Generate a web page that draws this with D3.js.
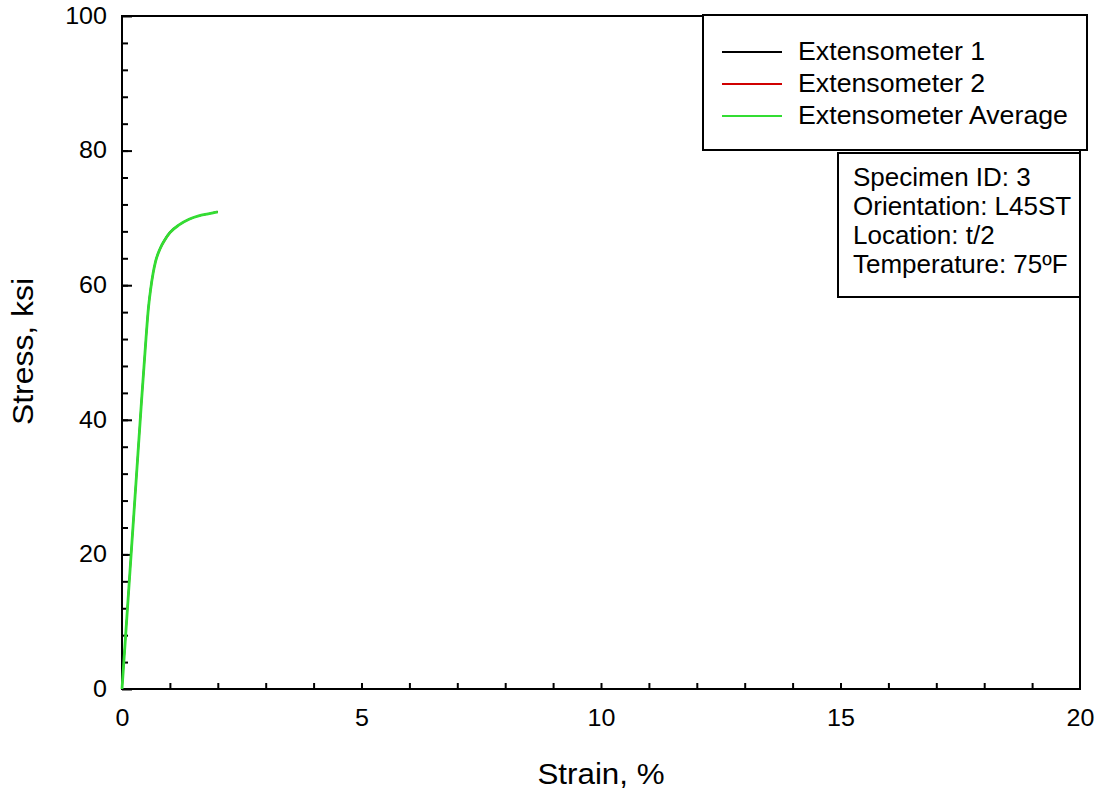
<!DOCTYPE html>
<html>
<head>
<meta charset="utf-8">
<script src="https://cdn.jsdelivr.net/npm/d3@7"></script>
<style>
  body { margin: 0; background: #fff; }
  text { font-family: "Liberation Sans", Arial, sans-serif; fill: #000; }
</style>
</head>
<body>
<div id="chart"></div>
<script>
const margin = {top: 16, right: 19, bottom: 105, left: 122},
  width = 1099 - margin.left - margin.right,
  height = 794 - margin.top - margin.bottom;

// strain (%) values
const strain_avg = [0, 0.1, 0.2, 0.3, 0.4, 0.5, 0.55, 0.6, 0.65, 0.7, 0.8, 0.9, 1.0, 1.2, 1.4, 1.6, 1.8, 2.0];
const stress_avg = [0, 10.5, 21, 31.5, 42, 52, 56.5, 59.5, 61.8, 63.5, 65.5, 66.8, 67.8, 69.0, 69.8, 70.3, 70.6, 70.9];
const strain_ext1 = [0, 0.1, 0.2, 0.3, 0.4, 0.5, 0.55, 0.6, 0.65, 0.7, 0.8, 0.9, 1.0, 1.2, 1.4, 1.6, 1.8, 2.0];
const stress_ext1 = [0, 10.6, 21.2, 31.7, 42.2, 52.2, 56.7, 59.7, 61.9, 63.6, 65.6, 66.9, 67.9, 69.0, 69.8, 70.3, 70.6, 70.9];
const strain_ext2 = [0, 0.1, 0.2, 0.3, 0.4, 0.5, 0.55, 0.6, 0.65, 0.7, 0.8, 0.9, 1.0, 1.2, 1.4, 1.6, 1.8, 2.0];
const stress_ext2 = [0, 10.4, 20.8, 31.3, 41.8, 51.8, 56.3, 59.3, 61.7, 63.4, 65.4, 66.7, 67.7, 69.0, 69.8, 70.3, 70.6, 70.9];

const series_names = ["Extensometer 1", "Extensometer 2", "Extensometer Average"];
const series_colors = ["#000000", "#d00000", "#33dd33"];
const info_lines = ["Specimen ID: 3", "Orientation: L45ST", "Location: t/2", "Temperature: 75ºF"];
const x_ticks = [0, 5, 10, 15, 20];
const y_ticks = [0, 20, 40, 60, 80, 100];

var svg = d3.select("#chart")
  .append("svg")
    .attr("width", 1099)
    .attr("height", 794)
  .append("g")
    .attr("transform", "translate(" + margin.left + "," + margin.top + ")");

var x = d3.scaleLinear().domain([0, 20]).range([0, width]);
var y = d3.scaleLinear().domain([0, 100]).range([height, 0]);

// minor ticks (inward)
svg.append("g")
  .attr("transform", "translate(0," + height + ")")
  .call(d3.axisTop(x).tickValues(d3.range(1, 20)).tickSize(6).tickFormat(""))
  .call(g => g.select(".domain").remove())
  .selectAll("line").attr("stroke-width", 2);
svg.append("g")
  .call(d3.axisRight(y).tickValues(d3.range(4, 100, 4)).tickSize(6).tickFormat(""))
  .call(g => g.select(".domain").remove())
  .selectAll("line").attr("stroke-width", 2);

// major ticks with labels (text a bit wider than Liberation Sans, like the original)
var xa = svg.append("g")
  .attr("transform", "translate(0," + height + ")")
  .call(d3.axisBottom(x).tickValues(x_ticks).tickSize(0));
xa.select(".domain").remove();
xa.selectAll("text")
  .attr("y", 0).attr("dy", "0.71em")
  .attr("transform", "translate(0,21) scale(1.09,1)")
  .style("font-size", "23px");

var ya = svg.append("g")
  .call(d3.axisLeft(y).tickValues(y_ticks).tickSize(0));
ya.select(".domain").remove();
ya.selectAll("text")
  .attr("x", 0)
  .attr("transform", "translate(-15,0) scale(1.09,1)")
  .style("font-size", "23px");

svg.append("g")
  .call(d3.axisRight(y).tickValues(y_ticks).tickSize(10).tickFormat(""))
  .call(g => g.select(".domain").remove())
  .selectAll("line").attr("stroke-width", 2);

// frame
svg.append("rect")
  .attr("width", width).attr("height", height)
  .attr("fill", "none").attr("stroke", "#000").attr("stroke-width", 2);

// axis titles
svg.append("text")
  .attr("transform", "translate(" + (width / 2) + "," + (height + 95) + ") scale(1.08,1)")
  .attr("text-anchor", "middle").style("font-size", "29px")
  .text("Strain, %");
svg.append("text")
  .attr("transform", "translate(-89," + (height / 2 - 1) + ") rotate(-90) scale(1.1,1)")
  .attr("text-anchor", "middle").style("font-size", "29px")
  .text("Stress, ksi");

// curves
var line = d3.line()
  .x(function (d) { return x(d[0]); })
  .y(function (d) { return y(d[1]); })
  .curve(d3.curveMonotoneX);

var curves = [
  d3.zip(strain_ext1, stress_ext1),
  d3.zip(strain_ext2, stress_ext2),
  d3.zip(strain_avg, stress_avg)
];
var widths = [1.5, 1.5, 2.8];
curves.forEach(function (c, i) {
  svg.append("path")
    .datum(c)
    .attr("fill", "none")
    .attr("stroke", series_colors[i])
    .attr("stroke-width", widths[i])
    .attr("d", line);
});

// legend
var leg = svg.append("g").attr("transform", "translate(" + (703 - margin.left) + "," + (15 - margin.top) + ")");
leg.append("rect")
  .attr("width", 384).attr("height", 135)
  .attr("fill", "#fff").attr("stroke", "#000").attr("stroke-width", 2);
series_names.forEach(function (name, i) {
  var yy = 37 + i * 32;
  leg.append("line")
    .attr("x1", 19).attr("x2", 79).attr("y1", yy).attr("y2", yy)
    .attr("stroke", series_colors[i]).attr("stroke-width", 2);
  leg.append("text")
    .attr("transform", "translate(95," + (yy + 8) + ") scale(1.07,1)")
    .style("font-size", "25px")
    .text(name);
});

// specimen info box
var info = svg.append("g").attr("transform", "translate(" + (838 - margin.left) + "," + (153 - margin.top) + ")");
info.append("rect")
  .attr("width", 242).attr("height", 144)
  .attr("fill", "#fff").attr("stroke", "#000").attr("stroke-width", 2);
info_lines.forEach(function (t, i) {
  info.append("text")
    .attr("transform", "translate(15," + (33 + i * 29) + ") scale(1.04,1)")
    .style("font-size", "25px")
    .text(t);
});
</script>
</body>
</html>
